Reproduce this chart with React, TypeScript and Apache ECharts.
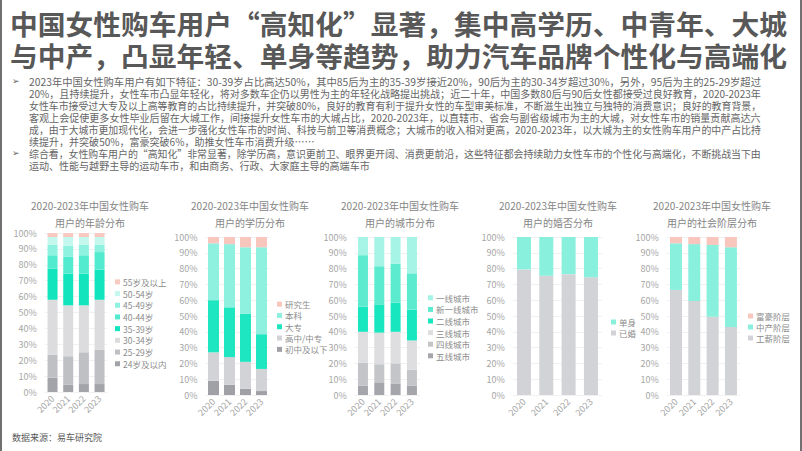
import React, { useEffect, useRef } from "react";
import * as echarts from "echarts";

// ---------- data ----------
const years = ["2020", "2021", "2022", "2023"];

const ageNames = ["24岁及以内", "25-29岁", "30-34岁", "35-39岁", "40-44岁", "45-49岁", "50-54岁", "55岁及以上"];
const age24 = [9, 4.5, 5, 5];
const age25 = [14.5, 18, 20, 21.5];
const age30 = [34.5, 32, 29.5, 31.5];
const age35 = [19.5, 20, 20, 19];
const age40 = [8.5, 10.5, 11.5, 11];
const age45 = [6.5, 7, 6.5, 4.5];
const age50 = [5, 5.5, 5, 5];
const age55 = [2.5, 2.5, 2.5, 2.5];
const ageValues = [age24, age25, age30, age35, age40, age45, age50, age55];
const ageColors = ["#a3a4a9", "#bfc0c4", "#dcdcdf", "#12e5bd", "#52ebcf", "#8ff2e0", "#c4f7ed", "#f8c9c0"];

const eduNames = ["初中及以下", "高中/中专", "大专", "本科", "研究生"];
const eduJunior = [9, 6.5, 4, 2.5];
const eduHigh = [18, 17.5, 17, 14];
const eduCollege = [33, 31.5, 30.5, 22];
const eduBachelor = [36, 40, 42, 55];
const eduGraduate = [4, 4.5, 6.5, 6.5];
const eduValues = [eduJunior, eduHigh, eduCollege, eduBachelor, eduGraduate];
const eduColors = ["#a0a1a6", "#d2d3d6", "#1de6c0", "#8ef1df", "#f8c6bc"];

const cityNames = ["五线城市", "四线城市", "三线城市", "二线城市", "新一线城市", "一线城市"];
const city5 = [6, 8, 7, 6];
const city4 = [14.5, 11.5, 13, 10];
const city3 = [19.5, 20, 20, 18.5];
const city2 = [16, 17.5, 18.5, 19.5];
const cityNew1 = [32.5, 24.5, 24.5, 23];
const city1 = [11.5, 18.5, 17, 23];
const cityValues = [city5, city4, city3, city2, cityNew1, city1];
const cityColors = ["#a5a6ab", "#c4c5c8", "#dedee0", "#18e6bf", "#5debd0", "#a5f4e6"];

const marNames = ["已婚", "单身"];
const married = [79.5, 75.5, 76.5, 74.5];
const single = [20.5, 24.5, 23.5, 25.5];
const marValues = [married, single];
const marColors = ["#d2d3d6", "#88f0dd"];

const clsNames = ["工薪阶层", "中产阶层", "富豪阶层"];
const clsWorking = [66.5, 59.5, 49.5, 43];
const clsMiddle = [29.5, 36, 45.5, 50.5];
const clsRich = [4, 4.5, 5, 6.5];
const clsValues = [clsWorking, clsMiddle, clsRich];
const clsColors = ["#d2d3d6", "#88f0dd", "#f8c6bc"];

const titleLines = [
  "中国女性购车用户“高知化”显著，集中高学历、中青年、大城",
  "与中产，凸显年轻、单身等趋势，助力汽车品牌个性化与高端化",
];

const bodyLines = [
  "2023年中国女性购车用户有如下特征：30-39岁占比高达50%，其中85后为主的35-39岁接近20%，90后为主的30-34岁超过30%，另外，95后为主的25-29岁超过",
  "20%，且持续提升，女性车市凸显年轻化，将对多数车企仍以男性为主的年轻化战略提出挑战；近二十年，中国多数80后与90后女性都接受过良好教育，2020-2023年",
  "女性车市接受过大专及以上高等教育的占比持续提升，并突破80%，良好的教育有利于提升女性的车型审美标准，不断滋生出独立与独特的消费意识；良好的教育背景，",
  "客观上会促使更多女性毕业后留在大城工作，间接提升女性车市的大城占比，2020-2023年，以直辖市、省会与副省级城市为主的大城，对女性车市的销量贡献高达六",
  "成，由于大城市更加现代化，会进一步强化女性车市的时尚、科技与前卫等消费概念；大城市的收入相对更高，2020-2023年，以大城为主的女性购车用户的中产占比持",
  "续提升，并突破50%，富豪突破6%，助推女性车市消费升级……",
  "综合看，女性购车用户的“高知化”非常显著，除学历高，意识更前卫、眼界更开阔、消费更前沿，这些特征都会持续助力女性车市的个性化与高端化，不断挑战当下由",
  "运动、性能与越野主导的运动车市，和由商务、行政、大家庭主导的高端车市",
];
const bodyJustified = [true, true, true, true, true, false, true, false];
const bulletLines = [0, 6];

const chartTitles = [
  ["2020-2023年中国女性购车", "用户的年龄分布"],
  ["2020-2023年中国女性购车", "用户的学历分布"],
  ["2020-2023年中国女性购车", "用户的城市分布"],
  ["2020-2023年中国女性购车", "用户的婚否分布"],
  ["2020-2023年中国女性购车", "用户的社会阶层分布"],
];
const sourceText = "数据来源：易车研究院";

// ---------- layout ----------
const FONT = "Noto Sans CJK SC";
const panels = [
  { names: ageNames, values: ageValues, colors: ageColors, stack: "age", grid: { left: 44.7, top: 233, width: 62.7, height: 159 }, barWidth: 10, legend: { left: 115, top: 276, gap: 11.7 }, titleX: 90 },
  { names: eduNames, values: eduValues, colors: eduColors, stack: "edu", grid: { left: 205.5, top: 237, width: 64, height: 158 }, barWidth: 11, legend: { left: 277, top: 298.5, gap: 11.3 }, titleX: 250 },
  { names: cityNames, values: cityValues, colors: cityColors, stack: "city", grid: { left: 354.8, top: 237, width: 65.3, height: 158 }, barWidth: 10, legend: { left: 428, top: 292, gap: 11.6 }, titleX: 400 },
  { names: marNames, values: marValues, colors: marColors, stack: "mar", grid: { left: 512.8, top: 237, width: 89.3, height: 158 }, barWidth: 14, legend: { left: 611, top: 316.5, gap: 11 }, titleX: 558 },
  { names: clsNames, values: clsValues, colors: clsColors, stack: "cls", grid: { left: 666.8, top: 237, width: 73.3, height: 158 }, barWidth: 12, legend: { left: 748, top: 310.5, gap: 11 }, titleX: 712 },
];

function measure(text: string, font: string): number {
  const ctx = document.createElement("canvas").getContext("2d");
  if (!ctx) return 0;
  ctx.font = font;
  return ctx.measureText(text).width;
}

export default function App() {
  const ref = useRef<HTMLDivElement>(null);

  useEffect(() => {
    if (!ref.current) return;
    const chart = echarts.init(ref.current, undefined, { renderer: "svg" });

    const graphics: any[] = [];
    // frame
    graphics.push({ type: "rect", x: 0, y: 0, shape: { x: 0, y: 0, width: 2, height: 451 }, style: { fill: "#707070" } });
    graphics.push({ type: "rect", x: 800, y: 0, shape: { x: 0, y: 0, width: 2, height: 451 }, style: { fill: "#707070" } });

    // main title
    const titleSize = 27;
    const titleFont = `bold ${titleSize}px "${FONT}"`;
    titleLines.forEach((t, i) => {
      const w = measure(t, titleFont);
      const sx = w > 0 ? 777 / w : 1;
      graphics.push({
        type: "text",
        x: 10,
        y: 23 + i * 32.5,
        scaleX: sx,
        style: { text: t, fontSize: titleSize, fontWeight: "bold", fontFamily: FONT, fill: "#585858", align: "left", verticalAlign: "middle", textAlign: "left", textVerticalAlign: "middle" },
      });
    });

    // body text
    const bodySize = 10.4;
    const bodyFont = `${bodySize}px "${FONT}"`;
    const targetW = 732;
    const scales: number[] = bodyLines.map((t, i) => {
      const w = measure(t, bodyFont);
      return bodyJustified[i] && w > 0 ? targetW / w : NaN;
    });
    const valid = scales.filter((s) => !isNaN(s)).sort((a, b) => a - b);
    const med = valid.length ? valid[Math.floor(valid.length / 2)] : 1;
    bodyLines.forEach((t, i) => {
      const sx = isNaN(scales[i]) ? med : scales[i];
      graphics.push({
        type: "text",
        x: 29,
        y: 81 + i * 12,
        scaleX: sx,
        style: { text: t, fontSize: bodySize, fontFamily: FONT, fill: "#666666", align: "left", verticalAlign: "middle", textAlign: "left", textVerticalAlign: "middle" },
      });
    });
    bulletLines.forEach((li) => {
      graphics.push({
        type: "text",
        x: 12,
        y: 81 + li * 12,
        style: { text: "➢", fontSize: 9, fontFamily: "DejaVu Sans", fill: "#666666", align: "left", verticalAlign: "middle", textAlign: "left", textVerticalAlign: "middle" },
      });
    });

    // chart titles
    chartTitles.forEach((lines, pi) => {
      lines.forEach((t, li) => {
        graphics.push({
          type: "text",
          x: panels[pi].titleX,
          y: 205 + li * 17,
          style: { text: t, fontSize: 10, fontFamily: FONT, fill: "#858585", align: "center", verticalAlign: "middle", textAlign: "center", textVerticalAlign: "middle" },
        });
      });
    });

    graphics.push({
      type: "text",
      x: 12,
      y: 437,
      style: { text: sourceText, fontSize: 9, fontFamily: FONT, fill: "#595959", align: "left", verticalAlign: "middle", textAlign: "left", textVerticalAlign: "middle" },
    });

    const grids: any[] = [];
    const xAxes: any[] = [];
    const yAxes: any[] = [];
    const legends: any[] = [];
    const series: any[] = [];

    panels.forEach((p, pi) => {
      grids.push({ ...p.grid, containLabel: false });
      xAxes.push({
        type: "category",
        gridIndex: pi,
        data: years,
        axisLine: { show: false },
        axisTick: { show: false },
        axisLabel: { rotate: 45, fontSize: 9, color: "#a6a6a6", margin: 5, interval: 0, fontFamily: FONT },
      });
      yAxes.push({
        type: "value",
        gridIndex: pi,
        min: 0,
        max: 100,
        interval: 10,
        axisLine: { show: false },
        axisTick: { show: false },
        axisLabel: { formatter: "{value}%", fontSize: 9, color: "#a6a6a6", margin: 8, fontFamily: FONT },
        splitLine: { lineStyle: { color: "#f1f1f1", width: 1 } },
      });
      legends.push({
        orient: "vertical",
        left: p.legend.left,
        top: p.legend.top,
        padding: 0,
        itemGap: 0,
        itemWidth: 5,
        itemHeight: 5,
        icon: "rect",
        selectedMode: false,
        data: [...p.names].reverse(),
        textStyle: { fontSize: 8.5, color: "#8c8c8c", lineHeight: p.legend.gap, height: p.legend.gap, fontFamily: FONT, padding: [0, 0, 0, -2] },
      });
      p.names.forEach((n, si) => {
        series.push({
          type: "bar",
          name: n,
          stack: p.stack,
          xAxisIndex: pi,
          yAxisIndex: pi,
          barWidth: p.barWidth,
          data: p.values[si],
          itemStyle: { color: p.colors[si] },
          emphasis: { disabled: true },
        });
      });
    });

    chart.setOption({
      animation: false,
      backgroundColor: "#ffffff",
      textStyle: { fontFamily: FONT },
      grid: grids,
      xAxis: xAxes,
      yAxis: yAxes,
      legend: legends,
      series,
      graphic: graphics,
    });

    return () => chart.dispose();
  }, []);

  return (
    <div
      ref={ref}
      style={{ position: "fixed", left: 0, top: 0, width: 802, height: 451, background: "#fff" }}
    />
  );
}
